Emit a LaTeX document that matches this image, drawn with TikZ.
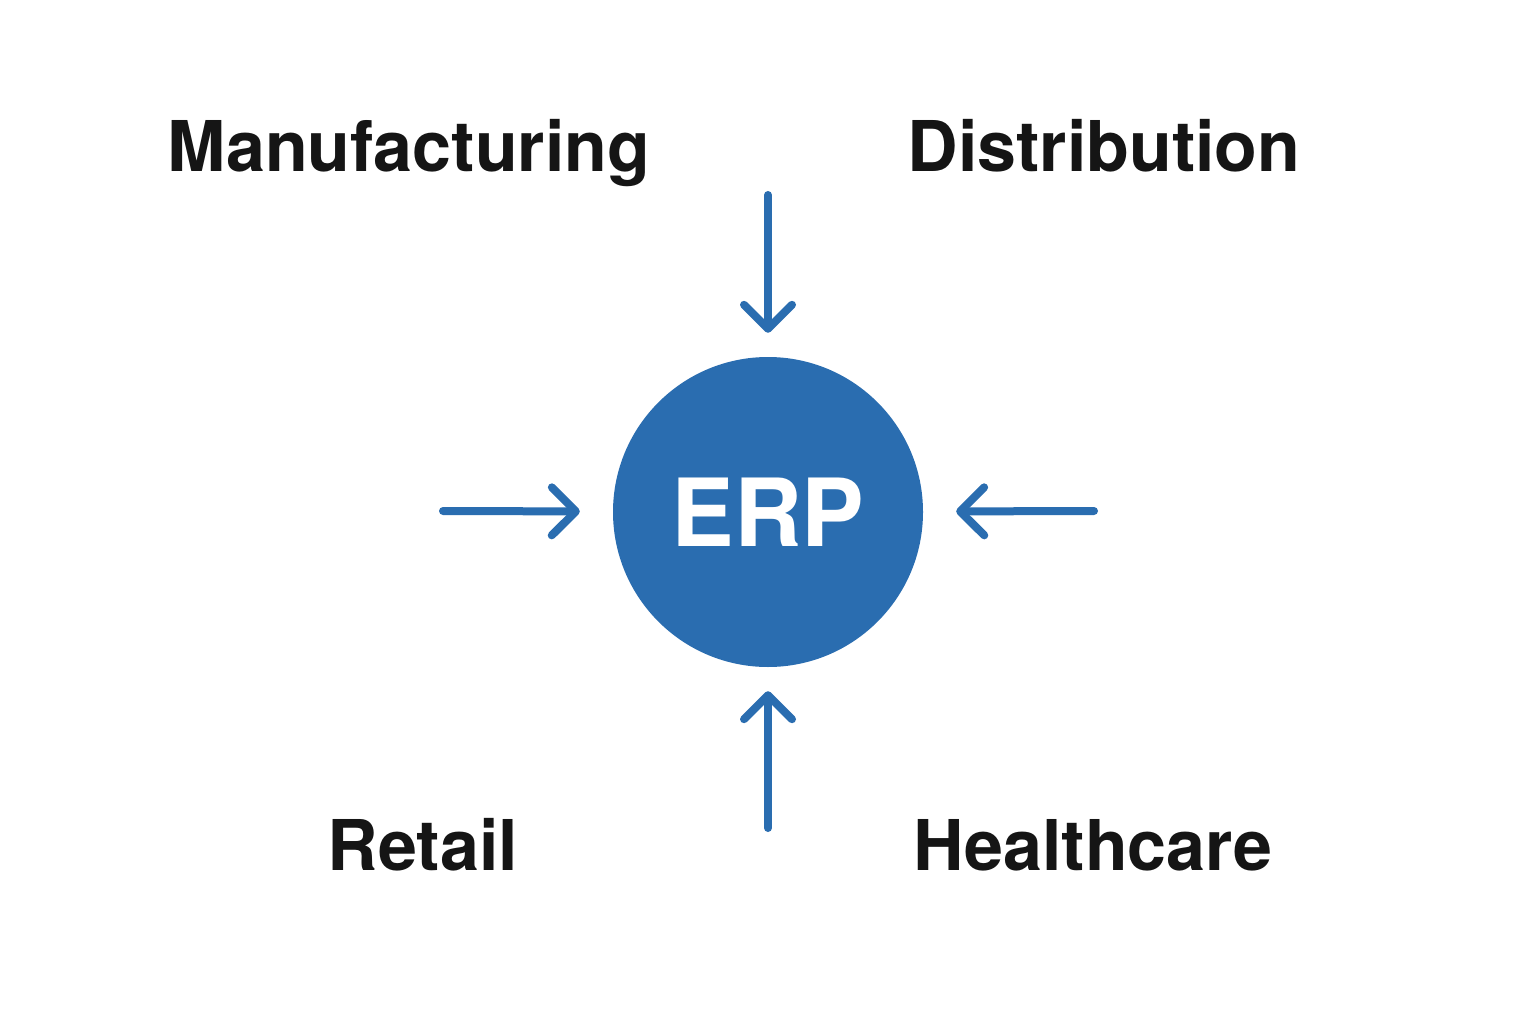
\documentclass[tikz,border=0pt]{standalone}
\usepackage{fontspec}
\setmainfont{TeX Gyre Heros}
\usetikzlibrary{arrows.meta}
\definecolor{erpblue}{HTML}{2A6DB0}
\definecolor{txt}{HTML}{151515}
\begin{document}
\begin{tikzpicture}[x=1pt,y=-1pt,
  lbl/.style={font=\fontsize{70}{76}\selectfont\bfseries, text=txt, inner sep=0pt},
  arr/.style={draw=erpblue, line width=8pt, line cap=round,
    -{Straight Barb[length=24pt,width=48pt,line cap=round,line join=round]}}]
\useasboundingbox[fill=white] (0,0) rectangle (1536,1024);
\node[circle, fill=erpblue, minimum size=310pt, inner sep=0pt,
  font=\fontsize{94}{100}\selectfont\bfseries, text=white] (erp) at (768,512) {ERP};
\node[lbl, anchor=base] (man) at (409,172) {Manufacturing};
\node[lbl, anchor=base] (dis) at (1104,172) {Distribution};
\node[lbl, anchor=base] (ret) at (423,870) {Retail};
\node[lbl, anchor=base] (hea) at (1093,870) {Healthcare};
\coordinate (ts) at (768,195);
\coordinate (bs) at (768,828);
\coordinate (ls) at (443,511);
\coordinate (rs) at (1094,511);
\draw[arr, shorten >=24pt] (ts) -- (erp);
\draw[arr, shorten >=24pt] (bs) -- (erp);
\draw[arr, shorten >=33pt] (ls) -- (erp);
\draw[arr, shorten >=33pt] (rs) -- (erp);
\end{tikzpicture}
\end{document}
